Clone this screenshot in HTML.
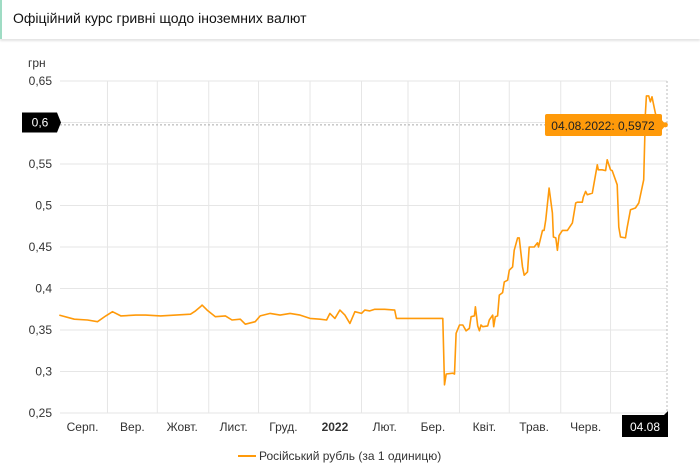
<!DOCTYPE html>
<html><head><meta charset="utf-8"><style>
body{margin:0;width:700px;height:475px;background:#fff;font-family:"Liberation Sans",sans-serif;overflow:hidden}
#hdr{position:absolute;left:0;top:0;width:700px;height:39px;border-left:2px solid #9fdcc4;box-shadow:0 2px 2px #e4e4e4;box-sizing:border-box}
#hdr span{position:absolute;left:11px;top:10px;font-size:14px;color:#111}
svg{position:absolute;left:0;top:0}
text{font-family:"Liberation Sans",sans-serif}
</style></head><body>
<div id="hdr"><span>Офіційний курс гривні щодо іноземних валют</span></div>
<svg id="c" width="700" height="475"></svg>
<script>
const days=[2,11,19,25,30,34,39,48,54,63,72,81,84,87,88,91,96,102,106,111,114,120,123,129,135,141,147,153,159,163,165,168,171,174,177,180,184,186,189,192,198,204,205,207,233,234,235,239,240,241,243,245,247,249,250,252,252.6,254,255,256,257,260,261,263,263.6,264.6,266,267,269,270,272,273,275,276,278,279,281,282,284,285,288,290,290.6,293,294,295,297,299,299.6,301,302,303,305,308,311,313,314,317,317.6,319,320,323,326,326.6,329,331,332,334,335,338,339,340,343,344,346,349,351,354,355,355.6,357,358,359,361,363,367];
const values=[0.368,0.363,0.362,0.360,0.367,0.372,0.367,0.368,0.368,0.367,0.368,0.369,0.373,0.378,0.380,0.374,0.366,0.367,0.362,0.363,0.357,0.360,0.367,0.370,0.368,0.370,0.368,0.364,0.363,0.362,0.370,0.364,0.374,0.368,0.358,0.372,0.370,0.374,0.373,0.375,0.375,0.374,0.364,0.364,0.364,0.284,0.297,0.298,0.297,0.346,0.356,0.356,0.349,0.352,0.366,0.367,0.378,0.355,0.349,0.356,0.354,0.355,0.362,0.368,0.354,0.366,0.367,0.392,0.395,0.408,0.410,0.422,0.426,0.446,0.461,0.461,0.426,0.416,0.420,0.450,0.450,0.455,0.450,0.470,0.470,0.483,0.521,0.491,0.462,0.461,0.446,0.464,0.470,0.470,0.479,0.503,0.504,0.504,0.510,0.517,0.513,0.515,0.549,0.543,0.543,0.542,0.555,0.543,0.542,0.525,0.474,0.462,0.461,0.473,0.495,0.497,0.503,0.531,0.611,0.632,0.632,0.625,0.631,0.611,0.599,0.5972];
const yTicks=[0.25,0.3,0.35,0.4,0.45,0.5,0.55,0.6,0.65];
const yTickLabels=["0,25","0,3","0,35","0,4","0,45","0,5","0,55","0,6","0,65"];
const monthStarts=[31,61,92,122,153,184,212,243,273,304,334];
const monthLabels=["Серп.","Вер.","Жовт.","Лист.","Груд.","2022","Лют.","Бер.","Квіт.","Трав.","Черв."];
const monthLabelDays=[16,46,76,107,137,168,198,227,258,288,319];
const NS="http://www.w3.org/2000/svg";
const svg=document.getElementById('c');
const X=d=>56+d*1.6603, Y=v=>81+(0.65-v)/0.4*332;
function el(t,a,p){const e=document.createElementNS(NS,t);for(const k in a)e.setAttribute(k,a[k]);(p||svg).appendChild(e);return e;}
const L=60,R=667,T=81,B=413;
const COL='#ff9a0a';
yTicks.forEach((v,i)=>{
 const g=el('line',{x1:L,x2:R,y1:Y(v),y2:Y(v),stroke:'#e6e6e6','stroke-width':1});
 
 
 if(yTickLabels[i]==="0,6")return;
 const t=el('text',{x:52,y:Y(v)+4,'text-anchor':'end','font-size':12,fill:'#333'});
 t.textContent=yTickLabels[i];
 
 
});
monthStarts.forEach(d=>{
 const g=el('line',{x1:X(d),x2:X(d),y1:T,y2:B,stroke:'#e6e6e6','stroke-width':1});
 
 
});
monthLabels.forEach((m,i)=>{
 const t=el('text',{x:X(monthLabelDays[i]),y:431,'text-anchor':'middle','font-size':12,fill:'#333','font-weight':m==='2022'?'bold':'normal'});
 t.textContent=m;
 
 
});
const u=el('text',{x:28,y:67,'font-size':12,fill:'#333'});u.textContent='грн';


const lastV=values[values.length-1], lastD=days[days.length-1];
const ch=el('line',{x1:L,x2:X(lastD),y1:Y(lastV),y2:Y(lastV),stroke:'#aaa','stroke-dasharray':'2,2'});


const cv=el('line',{x1:R,x2:R,y1:T,y2:B,stroke:'#bbb','stroke-dasharray':'2,2'});


const path=el('path',{d:days.map((d,i)=>(i?'L':'M')+X(d).toFixed(1)+','+Y(values[i]).toFixed(1)).join(''),fill:'none',stroke:COL,'stroke-width':1.6,'stroke-linejoin':'round'});


const yl=el('g',{});


el('path',{d:`M22,${Y(0.6)-10}H57L61,${Y(0.6)}L57,${Y(0.6)+10}H22Z`,fill:'#000'},yl);
const ylt=el('text',{x:40,y:Y(0.6)+4,'text-anchor':'middle','font-size':12,fill:'#fff'},yl);ylt.textContent='0,6';
const xl=el('g',{});


el('path',{d:`M622,415H664L668,411V437H622Z`,fill:'#000'},xl);
const xlt=el('text',{x:645,y:431,'text-anchor':'middle','font-size':12,fill:'#fff'},xl);xlt.textContent='04.08';
const tt=el('g',{});


el('rect',{x:545,y:114,width:117,height:22,fill:COL,rx:2},tt);
el('path',{d:`M661,119L666,${Y(lastV)}L661,131Z`,fill:COL},tt);
const ttt=el('text',{x:603,y:130,'text-anchor':'middle','font-size':12,fill:'#222'},tt);ttt.textContent='04.08.2022: 0,5972';
el('circle',{cx:X(lastD),cy:Y(lastV),r:2.5,fill:COL});
const lg=el('g',{});


el('line',{x1:238,x2:256,y1:456,y2:456,stroke:COL,'stroke-width':2},lg);
const lgt=el('text',{x:259,y:460,'font-size':12,fill:'#333'},lg);lgt.textContent='Російський рубль (за 1 одиницю)';
</script>
</body></html>
